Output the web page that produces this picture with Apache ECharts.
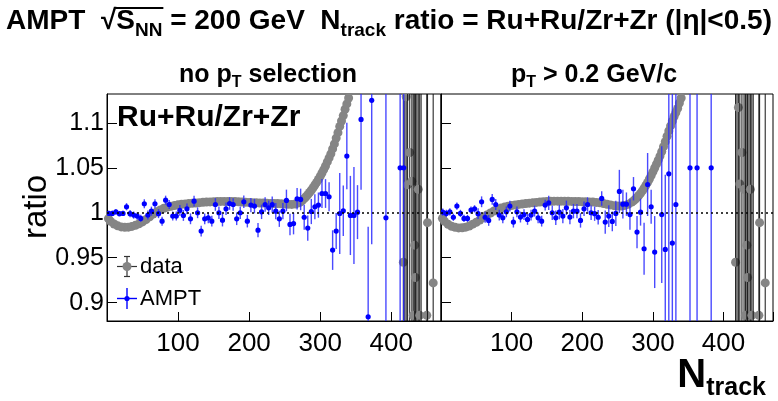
<!DOCTYPE html>
<html>
<head>
<meta charset="utf-8">
<script src="https://cdn.jsdelivr.net/npm/echarts@6/dist/echarts.min.js"></script>
<style>
  html, body { margin: 0; padding: 0; background: #fff; }
  #chart { width: 778px; height: 401px; }
</style>
</head>
<body>
<div id="chart"></div>
<script>
// ---- axes ----
const xTicks = [100, 200, 300, 400];
const yTicks = [0.9, 0.95, 1, 1.05, 1.1];
const xRange = [0, 470];
const yRange = [0.8797, 1.132];

// ---- measured ratio ("data"), dense band ----
const dataN = [2,5,10,15,20,25,30,35,40,45,50,55,60,65,70,75,80,85,90,95,100,105,110,115,120,125,130,135,140,145,150,155,160,165,170,175,180,185,190,195,200,205,210,215,220,225,230,235,240,245,250,255,260,265,270,272.5,275,277.5,280,282.5,285,287.5,290,292.5,295,297.5,300,302.5,305,307.5,310,312.5,315,317.5,320,322.5,325,327.5,330,332.5,335,337.5,340];
const dataNoCut = [0.9935,0.9905,0.9875,0.9855,0.9843,0.9838,0.984,0.9848,0.986,0.9877,0.9898,0.9925,0.9955,0.9985,1.001,1.0032,1.005,1.0062,1.0072,1.0081,1.0088,1.0094,1.0098,1.0102,1.0106,1.0109,1.0112,1.0116,1.0119,1.0121,1.0123,1.0125,1.0126,1.0126,1.0126,1.0125,1.0124,1.0122,1.012,1.0117,1.0115,1.0112,1.011,1.0109,1.0108,1.0106,1.0104,1.0103,1.0102,1.01,1.0097,1.0094,1.0093,1.0098,1.011,1.0122,1.0138,1.0157,1.0178,1.02,1.0225,1.025,1.0278,1.0308,1.0338,1.037,1.0405,1.0442,1.048,1.052,1.0565,1.061,1.0655,1.071,1.0765,1.083,1.089,1.096,1.102,1.108,1.115,1.121,1.1275];
const dataPtCut = [0.9938,0.9905,0.9872,0.985,0.9838,0.9832,0.9833,0.984,0.9853,0.9873,0.9895,0.992,0.9948,0.9975,0.9998,1.002,1.0038,1.0052,1.0063,1.0072,1.008,1.0087,1.0093,1.0098,1.0102,1.0107,1.0111,1.0115,1.0119,1.0122,1.0125,1.0127,1.0129,1.0129,1.0129,1.0128,1.0127,1.0126,1.0125,1.0124,1.0123,1.0122,1.0121,1.0119,1.0115,1.011,1.0103,1.0095,1.0087,1.0079,1.0074,1.0075,1.0082,1.0095,1.0118,1.0132,1.015,1.017,1.0192,1.0216,1.0243,1.0273,1.0305,1.0338,1.0375,1.0413,1.0455,1.0497,1.054,1.0585,1.063,1.068,1.0735,1.079,1.085,1.091,1.0965,1.102,1.107,1.1115,1.116,1.122,1.1275];

// ---- measured ratio, sparse high-multiplicity tail ----
const tailN = [417,419,421,423,426,429,431,433,434,436,438,440,442,450,451,459];
const tailNoCut = [0.945,1.30,1.129,1.031,1.067,1.035,0.886,0.964,0.928,0.80,1.026,0.886,1.25,0.886,0.989,0.922];
const tailPtCut = [0.945,1.30,1.117,1.032,1.067,1.026,0.886,0.964,0.928,0.80,1.026,0.886,1.25,0.886,0.989,0.922];
const tailErr = [0.6,0.6,0.6,0.6,0.6,0.6,0.6,0.6,0.6,0.6,0.6,0.6,0.6,0.6,0.6,0.6];

// ---- AMPT, no pT selection ----
const amptNoCutN = [2.5,7.5,12.5,17.5,22.5,27.5,32.5,37.5,42.5,47.5,52.5,57.5,62.5,67.5,72.5,77.5,82.5,87.5,92.5,97.5,102.5,107.5,112.5,117.5,122.5,127.5,132.5,137.5,142.5,147.5,152.5,157.5,162.5,167.5,172.5,177.5,182.5,187.5,192.5,197.5,202.5,207.5,212.5,217.5,222.5,227.5,232.5,237.5,242.5,247.5,252.5,257.5,262.5,267.5,272.5,277.5,282.5,287.5,292.5,297.5,302.5,307.5,312.5,317.5,322.5,327.5,332.5,337.5,342.5,347.5,352.5,357.5,367.5,372.5,392.5,412.5,417.5];
const amptNoCut = [0.9993,0.9993,1.001,0.999,0.9993,1.0067,0.999,0.9974,0.9963,0.9937,1.01,0.9974,1.0018,1.01,0.999,0.9907,1.014,1.0092,0.9963,0.9963,1.0026,0.997,1.0044,0.9933,1.0129,1.0,0.9796,0.9933,0.9944,0.9907,1.0092,1.0,0.9918,1.0044,1.0103,1.0092,0.9933,1.0,1.0122,0.9907,1.0085,1.0074,0.9807,1.001,1.0092,1.0055,1.009,1.0018,0.9933,1.0018,1.0137,0.987,0.988,1.0156,1.0148,0.995,0.983,1.0014,1.0067,1.0085,1.0214,1.0214,1.0178,0.9585,0.9796,0.9992,1.0022,1.063,0.997,0.997,1.0007,1.1037,0.8844,1.125,0.9944,1.05,1.05];
const amptNoCutErr = [0.003,0.003,0.003,0.003,0.003,0.004,0.004,0.004,0.004,0.004,0.005,0.005,0.005,0.005,0.005,0.005,0.005,0.005,0.005,0.005,0.006,0.006,0.006,0.006,0.006,0.006,0.006,0.006,0.006,0.006,0.007,0.007,0.007,0.007,0.007,0.007,0.007,0.007,0.007,0.007,0.008,0.008,0.008,0.008,0.008,0.008,0.009,0.009,0.009,0.009,0.012,0.012,0.012,0.012,0.012,0.014,0.014,0.014,0.014,0.014,0.016,0.016,0.016,0.022,0.02,0.045,0.028,0.037,0.044,0.054,0.03,0.078,0.1,0.16,0.4,0.4,0.4];

// ---- AMPT, pT > 0.2 GeV/c ----
const amptPtCutN = [2.5,7.5,12.5,17.5,22.5,27.5,32.5,37.5,42.5,47.5,52.5,57.5,62.5,67.5,72.5,77.5,82.5,87.5,92.5,97.5,102.5,107.5,112.5,117.5,122.5,127.5,132.5,137.5,142.5,147.5,152.5,157.5,162.5,167.5,172.5,177.5,182.5,187.5,192.5,197.5,202.5,207.5,212.5,217.5,222.5,227.5,232.5,237.5,242.5,247.5,252.5,257.5,262.5,267.5,272.5,277.5,282.5,287.5,292.5,297.5,302.5,312.5,317.5,322.5,327.5,332.5,352.5,362.5,382.5];
const amptPtCut = [1.0007,0.9993,1.001,0.995,1.0074,0.9993,0.9937,0.9937,1.003,1.0044,0.999,1.0122,0.995,0.9915,1.0148,1.0092,0.9974,0.9944,1.001,1.0074,0.9896,1.001,0.9952,0.998,0.9926,0.9974,1.0018,0.9944,0.9907,1.0085,1.011,1.0,0.9944,1.0007,0.9963,1.0055,0.9952,1.0018,1.0018,0.9915,1.0044,1.0092,1.0,0.999,0.995,1.0159,0.9896,0.9963,0.9904,0.9993,1.0237,1.0096,1.0096,0.998,1.0267,0.9785,1.0007,0.96,1.0314,1.0067,0.9563,0.998,0.9593,1.0433,0.9663,1.0092,1.05,1.05,1.05];
const amptPtCutErr = [0.004,0.004,0.004,0.004,0.004,0.004,0.004,0.004,0.004,0.004,0.006,0.006,0.006,0.006,0.006,0.006,0.006,0.006,0.006,0.006,0.006,0.006,0.006,0.006,0.006,0.006,0.006,0.006,0.006,0.006,0.008,0.008,0.008,0.008,0.008,0.008,0.008,0.008,0.008,0.008,0.008,0.008,0.008,0.008,0.008,0.008,0.013,0.012,0.011,0.014,0.024,0.016,0.013,0.017,0.013,0.018,0.015,0.029,0.035,0.019,0.04,0.076,0.083,0.2,0.2,0.2,0.4,0.4,0.4];

// ---- styling ----
const FONT = '"Liberation Sans", Arial, Helvetica, sans-serif';
const GRAY = '#858585';
const BLUE = '#0000ff';
const panels = [
  { left: 107, width: 334 },
  { left: 441, width: 332 }
];
const TOP = 94, HEIGHT = 227;

function pairs(xs, ys) { return xs.map((x, i) => [x, ys[i]]); }
function triples(xs, ys, es) { return xs.map((x, i) => [x, ys[i], es[i]]); }

// error-bar series: marker + vertical error (+ optional bin-width bar)
function errorSeries(idx, data, opt) {
  return {
    type: 'custom',
    xAxisIndex: idx,
    yAxisIndex: idx,
    clip: true,
    z: opt.z,
    data: data,
    renderItem: function (params, api) {
      const x = api.value(0), y = api.value(1), e = api.value(2);
      const c = api.coord([x, y]);
      const hi = api.coord([x, y + e]);
      const lo = api.coord([x, y - e]);
      const kids = [{
        type: 'line',
        shape: { x1: c[0], y1: hi[1], x2: c[0], y2: lo[1] },
        style: { stroke: opt.errColor, lineWidth: opt.lineWidth, opacity: opt.errOpacity }
      }];
      if (opt.halfBin) {
        const a = api.coord([x - opt.halfBin, y]);
        const b = api.coord([x + opt.halfBin, y]);
        kids.push({
          type: 'line',
          shape: { x1: a[0], y1: c[1], x2: b[0], y2: c[1] },
          style: { stroke: opt.color, lineWidth: 1.5 }
        });
      }
      kids.push({
        type: 'circle',
        shape: { cx: c[0], cy: c[1], r: opt.r },
        style: { fill: opt.color }
      });
      return { type: 'group', children: kids };
    }
  };
}

const grids = panels.map(p => ({
  left: p.left, top: TOP, width: p.width, height: HEIGHT,
  show: true, borderColor: '#000', borderWidth: 1, backgroundColor: 'transparent',
  containLabel: false
}));

const xAxes = panels.map((p, i) => ({
  type: 'value', gridIndex: i, min: xRange[0], max: xRange[1], interval: 100,
  axisLine: { show: true, lineStyle: { color: '#000', width: 1 } },
  axisTick: { show: true, inside: true, length: 9, lineStyle: { color: '#000' } },
  axisLabel: {
    show: true, color: '#000', fontFamily: FONT, fontSize: 26, margin: 10,
    formatter: v => (xTicks.indexOf(v) >= 0 ? String(v) : '')
  },
  splitLine: { show: false }
}));

const yAxes = panels.map((p, i) => ({
  type: 'value', gridIndex: i, min: yRange[0], max: yRange[1],
  axisLine: { show: true, lineStyle: { color: '#000', width: 1 } },
  axisTick: { show: true, inside: true, length: 10, customValues: yTicks, lineStyle: { color: '#000' } },
  axisLabel: {
    show: i === 0, color: '#000', fontFamily: FONT, fontSize: 25, margin: 3,
    customValues: yTicks,
    formatter: v => String(Math.round(v * 100) / 100)
  },
  splitLine: { show: false }
}));

const series = [];
[[dataNoCut, tailNoCut], [dataPtCut, tailPtCut]].forEach((set, i) => {
  series.push({
    type: 'scatter', xAxisIndex: i, yAxisIndex: i, z: 2,
    symbol: 'circle', symbolSize: 9,
    itemStyle: { color: GRAY, opacity: 1 },
    data: pairs(dataN, set[0]),
    markLine: {
      silent: true, symbol: 'none', z: 10,
      label: { show: false },
      lineStyle: { color: '#000', type: [2, 3], width: 1.6 },
      data: [{ yAxis: 1 }]
    }
  });
  series.push(errorSeries(i, triples(tailN, set[1], tailErr), {
    z: 2, color: GRAY, errColor: '#111', lineWidth: 1.1, errOpacity: 0.9, r: 4.5
  }));
});
series.push(errorSeries(0, triples(amptNoCutN, amptNoCut, amptNoCutErr), {
  z: 4, color: BLUE, errColor: '#2a2aff', lineWidth: 1.4, errOpacity: 0.85, r: 2.6, halfBin: 2.5
}));
series.push(errorSeries(1, triples(amptPtCutN, amptPtCut, amptPtCutErr), {
  z: 4, color: BLUE, errColor: '#2a2aff', lineWidth: 1.4, errOpacity: 0.85, r: 2.6, halfBin: 2.5
}));

// ---- text & legend ----
const sub = (dy, size) => ({ fontFamily: FONT, fontWeight: 'bold', fontSize: size, lineHeight: size, padding: [dy, 0, 0, 0], verticalAlign: 'top', color: '#000' });
const main = size => ({ fontFamily: FONT, fontWeight: 'bold', fontSize: size, lineHeight: size, verticalAlign: 'top', color: '#000' });

// width helper for placing the radical's overline
const ctx = document.createElement('canvas').getContext('2d');
function textW(str, size) { ctx.font = 'bold ' + size + 'px ' + FONT; return ctx.measureText(str).width; }

const TITLE_SIZE = 28, TITLE_SUB = 19, TITLE_X = 6, TITLE_Y = 7;
const olStart = TITLE_X + textW('AMPT  ', TITLE_SIZE) + textW('√', TITLE_SIZE) - 1;
const olEnd = TITLE_X + textW('AMPT  √S', TITLE_SIZE) + textW('NN', TITLE_SUB) + 1;

const graphic = [
  {
    type: 'text', x: TITLE_X, y: TITLE_Y,
    style: {
      text: '{m|AMPT  √S}{s|NN}{m| = 200 GeV  N}{s|track}{m| ratio = Ru+Ru/Zr+Zr (|η|<0.5)}',
      rich: { m: main(TITLE_SIZE), s: sub(14, TITLE_SUB) }
    }
  },
  {
    type: 'line', shape: { x1: olStart, y1: TITLE_Y + 1, x2: olEnd, y2: TITLE_Y + 1 },
    style: { stroke: '#000', lineWidth: 2 }
  },
  {
    type: 'text', x: 268, y: 63,
    style: {
      text: '{m|no p}{s|T}{m| selection}', align: 'center',
      rich: { m: main(25), s: sub(12, 16) }
    }
  },
  {
    type: 'text', x: 594, y: 63,
    style: {
      text: '{m|p}{s|T}{m| > 0.2 GeV/c}', align: 'center',
      rich: { m: main(25), s: sub(12, 16) }
    }
  },
  {
    type: 'text', x: 117, y: 103,
    style: { text: 'Ru+Ru/Zr+Zr', fontFamily: FONT, fontWeight: 'bold', fontSize: 30, fill: '#000', verticalAlign: 'top' }
  },
  {
    type: 'text', x: 37, y: 207, rotation: Math.PI / 2,
    style: { text: 'ratio', fontFamily: FONT, fontSize: 33, fill: '#000', align: 'center', verticalAlign: 'middle' }
  },
  {
    type: 'text', x: 766, y: 356,
    style: {
      text: '{n|N}{s|track}', align: 'right',
      rich: { n: main(40), s: sub(20, 25) }
    }
  },
  // legend: data
  { type: 'line', shape: { x1: 117, y1: 266.5, x2: 137, y2: 266.5 }, style: { stroke: '#333', lineWidth: 1.2 } },
  { type: 'line', shape: { x1: 127, y1: 256.5, x2: 127, y2: 276.5 }, style: { stroke: '#333', lineWidth: 1.2 } },
  { type: 'line', shape: { x1: 124, y1: 256.5, x2: 130, y2: 256.5 }, style: { stroke: '#333', lineWidth: 1.2 } },
  { type: 'line', shape: { x1: 124, y1: 276.5, x2: 130, y2: 276.5 }, style: { stroke: '#333', lineWidth: 1.2 } },
  { type: 'circle', shape: { cx: 127, cy: 266.5, r: 4.5 }, style: { fill: GRAY } },
  { type: 'text', x: 140, y: 266.5, style: { text: 'data', fontFamily: FONT, fontSize: 22, fill: '#000', verticalAlign: 'middle' } },
  // legend: AMPT
  { type: 'line', shape: { x1: 117, y1: 298.5, x2: 137, y2: 298.5 }, style: { stroke: BLUE, lineWidth: 1.4 } },
  { type: 'line', shape: { x1: 127, y1: 288, x2: 127, y2: 309 }, style: { stroke: BLUE, lineWidth: 1.4 } },
  { type: 'circle', shape: { cx: 127, cy: 298.5, r: 2.6 }, style: { fill: BLUE } },
  { type: 'text', x: 140, y: 298.5, style: { text: 'AMPT', fontFamily: FONT, fontSize: 22, fill: '#000', verticalAlign: 'middle' } }
];

const chart = echarts.init(document.getElementById('chart'), null, { renderer: 'canvas' });
chart.setOption({
  animation: false,
  backgroundColor: '#fff',
  grid: grids,
  xAxis: xAxes,
  yAxis: yAxes,
  series: series,
  graphic: graphic
});
</script>
</body>
</html>
